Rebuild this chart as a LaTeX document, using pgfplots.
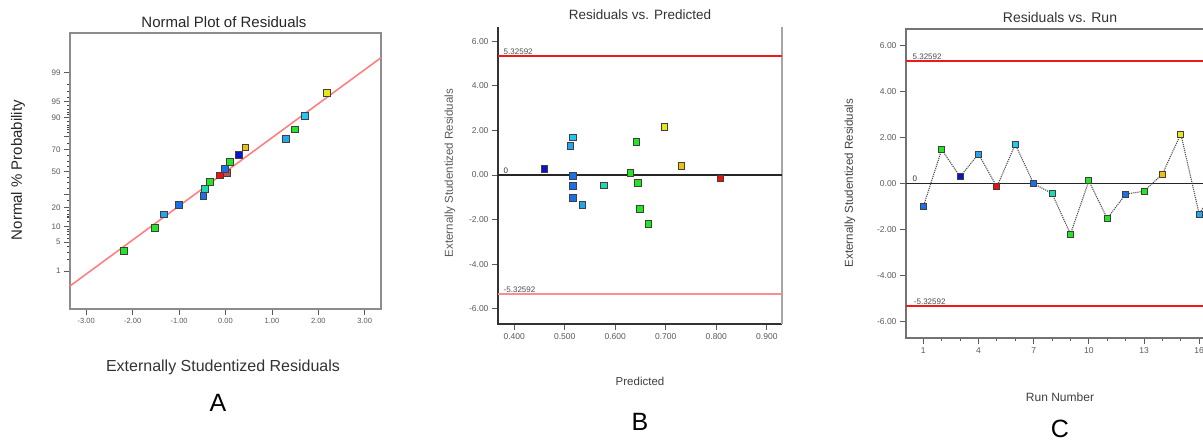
\documentclass[border=0pt]{standalone}
\usepackage{fontspec}
\setmainfont{Liberation Sans}
\usepackage{pgfplots}
\pgfplotsset{compat=1.18}

\definecolor{cdb}{HTML}{0A14C8}
\definecolor{cb}{HTML}{1A70E8}
\definecolor{clb}{HTML}{25A5F0}
\definecolor{cc}{HTML}{22C8F5}
\definecolor{ct}{HTML}{1FD8B0}
\definecolor{cg}{HTML}{22E622}
\definecolor{co}{HTML}{F0C010}
\definecolor{cy}{HTML}{E6E61E}
\definecolor{cr}{HTML}{F01010}
\definecolor{cbr}{HTML}{C05050}
\definecolor{limred}{HTML}{F01818}

\pgfplotsset{
  resid/.style={
    scale only axis, anchor=south west, clip=false,
    tick align=outside, xtick pos=bottom, ytick pos=left,
    major tick length=6pt, minor tick length=3pt,
    tick style={black!65, line width=0.8pt},
    axis line style={black!45, line width=1.2pt},
    /pgf/number format/assume math mode=true,
    tick label style={text=black!65},
    scatter/classes={
      db={mark=square*, fill=cdb},
      b={mark=square*, fill=cb},
      lb={mark=square*, fill=clb},
      c={mark=square*, fill=cc},
      t={mark=square*, fill=ct},
      g={mark=square*, fill=cg},
      o={mark=square*, fill=co},
      y={mark=square*, fill=cy},
      r={mark=square*, fill=cr},
      br={mark=square*, fill=cbr}},
  },
  pts/.style={scatter, only marks, scatter src=explicit symbolic,
    mark size=3.3pt, every mark/.append style={draw=black!75, line width=0.8pt}},
  two/.style={/pgf/number format/fixed, /pgf/number format/fixed zerofill, /pgf/number format/precision=#1},
}

\begin{document}
\begin{tikzpicture}
\useasboundingbox (0pt,0pt) rectangle (1203pt,442pt);
\clip (0pt,0pt) rectangle (1203pt,442pt);

% ---------------- A: normal plot ----------------
\begin{axis}[resid,
  at={(70pt,133pt)}, width=311pt, height=276pt,
  xmin=-3.35, xmax=3.35, ymin=-3.22, ymax=3.26,
  xtick={-3,-2,-1,0,1,2,3},
  x tick label style={two=2, font=\fontsize{7.5}{9}\selectfont},
  ytick={-2.3263,-1.6449,-1.2816,-0.8416,-0.5244,0,0.5244,0.8416,1.2816,1.6449,2.3263},
  yticklabels={1,5,10,20,{},50,70,{},90,95,99},
  y tick label style={font=\fontsize{8}{9}\selectfont},
  minor tick style={black!75, line width=0.8pt},
  minor ytick={-2.0537,-1.8808,-1.7507,-1.5548,-1.4758,-1.4051,-1.3408,-1.1750,-1.0803,-1.0364,-0.9945,-0.9154,-0.6745,-0.3853,-0.2533,-0.1257,
               0.1257,0.2533,0.3853,0.6745,0.9154,0.9945,1.0364,1.0803,1.1750,1.3408,1.4051,1.4758,1.5548,1.7507,1.8808,2.0537},
]
\addplot[draw=red!50, line width=1.6pt] coordinates {(-3.35,-2.68) (3.35,2.68)};
\addplot[pts] coordinates {
  (-2.19,-1.85) [g]
  (-1.52,-1.31) [g]
  (-1.33,-1.00) [lb]
  (-1.00,-0.77) [b]
  (-0.48,-0.56) [b]
  (-0.44,-0.40) [t]
  (-0.33,-0.23) [g]
  (-0.12,-0.08) [r]
  (0.03,-0.02) [br]
  (-0.01,0.07) [b]
  (0.10,0.23) [g]
  (0.29,0.40) [db]
  (0.43,0.57) [o]
  (1.30,0.77) [lb]
  (1.49,1.00) [g]
  (1.71,1.31) [c]
  (2.19,1.85) [y]
};
\end{axis}

% ---------------- B: residuals vs predicted ----------------
\begin{axis}[resid,
  at={(498pt,118pt)}, width=284pt, height=297pt,
  xmin=0.368, xmax=0.93, ymin=-6.68, ymax=6.64,
  axis line style={draw=none},
  xtick={0.4,0.5,0.6,0.7,0.8,0.9},
  x tick label style={two=3, font=\fontsize{8.5}{9}\selectfont},
  ytick={-6,-4,-2,0,2,4,6},
  y tick label style={two=2, font=\fontsize{8.5}{9}\selectfont},
]
\draw[black!80, line width=1.2pt] (rel axis cs:0,1) -- (rel axis cs:0,0) -- (rel axis cs:1,0);
\draw[black!35, line width=1.2pt] (rel axis cs:1,0) -- (rel axis cs:1,1);
\addplot[limred, line width=2pt] coordinates {(0.368,5.32592) (0.93,5.32592)};
\addplot[red!45, line width=1.6pt] coordinates {(0.368,-5.32592) (0.93,-5.32592)};
\addplot[black!85, line width=1.2pt] coordinates {(0.368,0) (0.93,0)};
\node[anchor=south west, inner sep=1.5pt, font=\fontsize{8}{9}\selectfont, text=black!70] at (axis cs:0.376,5.32592) {5.32592};
\node[anchor=south west, inner sep=1.5pt, font=\fontsize{8}{9}\selectfont, text=black!70] at (axis cs:0.376,-5.32592) {-5.32592};
\node[anchor=south west, inner sep=1.5pt, font=\fontsize{8}{9}\selectfont, text=black!80] at (axis cs:0.376,0) {0};
\addplot[pts] coordinates {
  (0.460,0.28) [db]
  (0.511,1.30) [lb]
  (0.516,1.69) [c]
  (0.516,-0.04) [b]
  (0.516,-0.49) [b]
  (0.516,-1.03) [b]
  (0.535,-1.35) [lb]
  (0.578,-0.46) [t]
  (0.630,0.10) [g]
  (0.642,1.48) [g]
  (0.645,-0.34) [g]
  (0.649,-1.52) [g]
  (0.666,-2.20) [g]
  (0.697,2.15) [y]
  (0.731,0.40) [o]
  (0.808,-0.15) [r]
};
\end{axis}

% ---------------- C: residuals vs run ----------------
\begin{axis}[resid,
  at={(906pt,104pt)}, width=330pt, height=309pt,
  xmin=0.06, xmax=18, ymin=-6.72, ymax=6.73,
  axis line style={black!55, line width=1.3pt},
  xtick={1,4,7,10,13,16},
  minor xtick={2,3,5,6,8,9,11,12,14,15,17},
  x tick label style={font=\fontsize{8.5}{9}\selectfont},
  ytick={-6,-4,-2,0,2,4,6},
  y tick label style={two=2, font=\fontsize{8.5}{9}\selectfont},
]
\addplot[limred, line width=2pt] coordinates {(0.06,5.32592) (18,5.32592)};
\addplot[limred, line width=2pt] coordinates {(0.06,-5.32592) (18,-5.32592)};
\addplot[black!85, line width=1.3pt] coordinates {(0.06,0) (18,0)};
\node[anchor=south west, inner sep=1.5pt, font=\fontsize{8}{9}\selectfont, text=black!70] at (axis cs:0.33,5.32592) {5.32592};
\node[anchor=south west, inner sep=1.5pt, font=\fontsize{8}{9}\selectfont, text=black!70] at (axis cs:0.40,-5.32592) {-5.32592};
\node[anchor=south west, inner sep=1.5pt, font=\fontsize{8}{9}\selectfont, text=black!80] at (axis cs:0.33,0) {0};
\addplot[black!70, densely dotted, line width=1.1pt] coordinates {
  (1,-1.01) (2,1.48) (3,0.30) (4,1.29) (5,-0.14) (6,1.71) (7,0.00) (8,-0.43) (9,-2.20)
  (10,0.12) (11,-1.52) (12,-0.46) (13,-0.33) (14,0.42) (15,2.16) (16,-1.33) (17,0.03)
};
\addplot[pts, mark size=3pt] coordinates {
  (1,-1.01) [b]
  (2,1.48) [g]
  (3,0.30) [db]
  (4,1.29) [lb]
  (5,-0.14) [r]
  (6,1.71) [c]
  (7,0.00) [b]
  (8,-0.43) [t]
  (9,-2.20) [g]
  (10,0.12) [g]
  (11,-1.52) [g]
  (12,-0.46) [b]
  (13,-0.33) [g]
  (14,0.42) [o]
  (15,2.16) [y]
  (16,-1.33) [lb]
  (17,0.03) [br]
};
\end{axis}

% ---------------- titles, labels, panel letters ----------------
\node[font=\fontsize{15}{17}\selectfont, text=black!85] at (224pt,420pt) {Normal Plot of Residuals};
\node[font=\fontsize{16}{18}\selectfont, text=black!80] at (223pt,75pt) {Externally Studentized Residuals};
\node[font=\fontsize{15}{17}\selectfont, text=black!85, rotate=90] at (18pt,272pt) {Normal \% Probability};
\node[font=\fontsize{25}{28}\selectfont] at (218pt,39pt) {A};

\node[font=\fontsize{13.5}{16}\selectfont, text=black!80] at (640pt,427pt) {Residuals vs. Predicted};
\node[font=\fontsize{11.5}{13}\selectfont, text=black!65, rotate=90] at (450pt,269pt) {Externally Studentized Residuals};
\node[font=\fontsize{11.5}{13}\selectfont, text=black!75] at (640pt,61pt) {Predicted};
\node[font=\fontsize{25}{28}\selectfont] at (640pt,20pt) {B};

\node[font=\fontsize{14}{16}\selectfont, text=black!80] at (1060pt,425pt) {Residuals vs. Run};
\node[font=\fontsize{11.5}{13}\selectfont, text=black!75, rotate=90] at (850pt,259pt) {Externally Studentized Residuals};
\node[font=\fontsize{12}{14}\selectfont, text=black!75] at (1060pt,45pt) {Run Number};
\node[font=\fontsize{25}{28}\selectfont] at (1060pt,13pt) {C};
\end{tikzpicture}
\end{document}
